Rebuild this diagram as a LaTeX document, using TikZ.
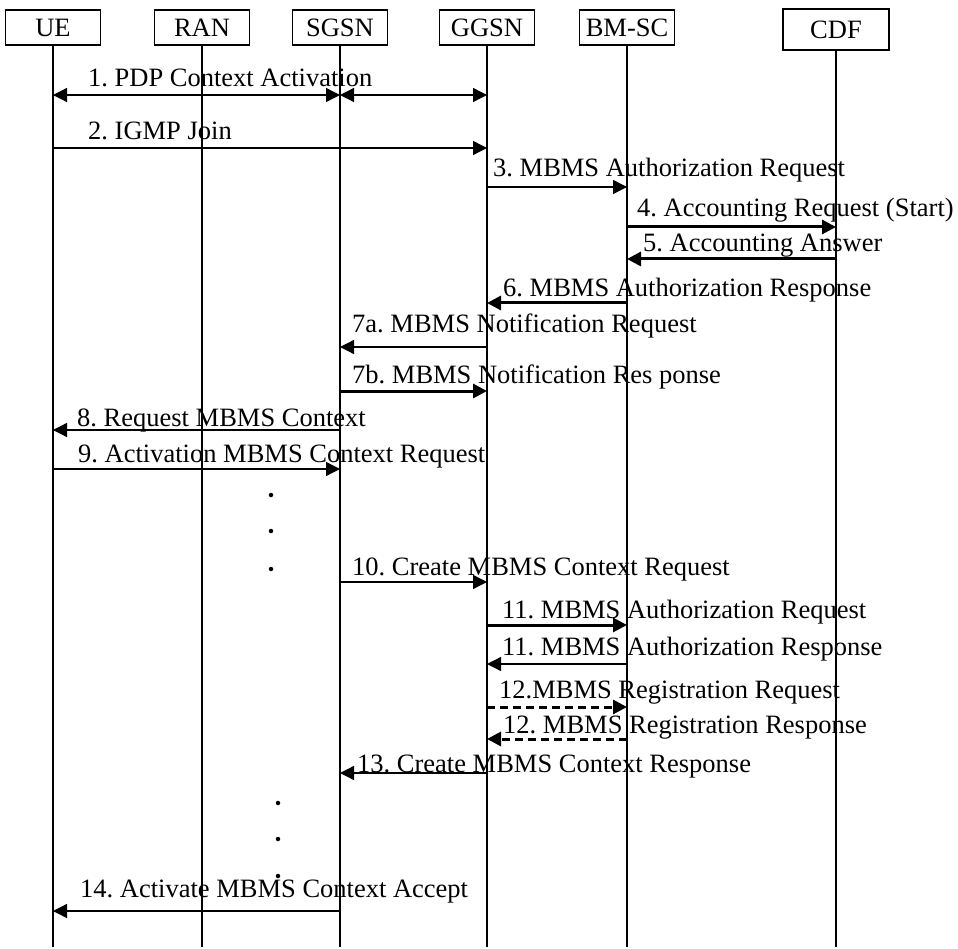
\documentclass[tikz,border=0pt]{standalone}
\usepackage{fontspec}
\setmainfont{Liberation Serif}
\usetikzlibrary{positioning, arrows.meta}

\begin{document}
\frenchspacing
\begin{tikzpicture}[x=1pt, y=-1pt, >={Triangle[length=14pt,width=14pt]}, font=\fontsize{26.5}{30}\selectfont,
    entity/.style={draw, line width=1.4pt, minimum width=95pt, minimum height=35pt, inner sep=0pt},
    life/.style={line width=1.3pt},
    thinmsg/.style={->, line width=1.3pt},
    thickmsg/.style={->, line width=3pt},
    dashmsg/.style={->, line width=3pt, dash pattern=on 8pt off 5pt},
    lbl/.style={anchor=base west, inner sep=0pt},
    dotmark/.style={circle, fill, inner sep=0pt, minimum size=4.5pt}]
        \useasboundingbox (0,0) rectangle (958,949);

        % Entities
        \node[entity] (ue) at (53,27.5) {UE};
        \node[entity] (ran) at (202,27.5) {RAN};
        \node[entity] (sgsn) at (340,27.5) {SGSN};
        \node[entity] (ggsn) at (487,27.5) {GGSN};
        \node[entity] (bmsc) at (627,27.5) {BM-SC};
        \node[entity, minimum width=106pt, minimum height=41pt] (cdf) at (836,29.5) {CDF};

        % Lifelines
        \foreach \n in {ue, ran, sgsn, ggsn, bmsc, cdf}
            \draw[life] (\n.south) -- (\n.south |- 0,947);

        % 1. PDP context
        \draw[<->, line width=1.3pt] (ue |- 0,95) -- (sgsn |- 0,95);
        \draw[<->, line width=1.3pt] (sgsn |- 0,95) -- (ggsn |- 0,95);
        \node[lbl] (m1) at (88,87) {1. PDP Context Activation};

        % 2. IGMP
        \draw[thinmsg] (ue |- 0,148) -- (ggsn |- 0,148);
        \node[lbl] (m2) at (88,140) {2. IGMP Join};

        % 3.-6. Authorization and accounting
        \draw[thinmsg] (ggsn |- 0,187) -- (bmsc |- 0,187);
        \node[lbl] (m3) at (493,177) {3. MBMS Authorization Request};
        \draw[thickmsg] (bmsc |- 0,227) -- (cdf |- 0,227);
        \node[lbl] (m4) at (637,217) {4. Accounting Request (Start)};
        \draw[thickmsg] (cdf |- 0,259) -- (bmsc |- 0,259);
        \node[lbl] (m5) at (643,252) {5. Accounting Answer};
        \draw[thickmsg] (bmsc |- 0,303) -- (ggsn |- 0,303);
        \node[lbl] (m6) at (503,297) {6. MBMS Authorization Response};

        % 7. Notification
        \draw[thinmsg] (ggsn |- 0,347) -- (sgsn |- 0,347);
        \node[lbl] (m7a) at (352,333) {7a. MBMS Notification Request};
        \draw[thickmsg] (sgsn |- 0,391) -- (ggsn |- 0,391);
        \node[lbl] (m7b) at (352,383) {7b. MBMS Notification Res ponse};

        % 8.-9. UE context
        \draw[thinmsg] (sgsn |- 0,430) -- (ue |- 0,430);
        \node[lbl] (m8) at (77,426) {8. Request MBMS Context};
        \draw[thinmsg] (ue |- 0,469) -- (sgsn |- 0,469);
        \node[lbl] (m9) at (78,462) {9. Activation MBMS Context Request};

        \node[dotmark] (d1) at (271,495) {};
        \node[dotmark] (d2) at (271,531) {};
        \node[dotmark] (d3) at (271,569) {};

        % 10.-13. Create context
        \draw[thinmsg] (sgsn |- 0,582) -- (ggsn |- 0,582);
        \node[lbl] (m10) at (352,575) {10. Create MBMS Context Request};
        \draw[thickmsg] (ggsn |- 0,625) -- (bmsc |- 0,625);
        \node[lbl] (m11a) at (502,618) {11. MBMS Authorization Request};
        \draw[thinmsg] (bmsc |- 0,664) -- (ggsn |- 0,664);
        \node[lbl] (m11b) at (502,655) {11. MBMS Authorization Response};
        \draw[dashmsg] (ggsn |- 0,707) -- (bmsc |- 0,707);
        \node[lbl] (m12a) at (499,698) {12.MBMS Registration Request};
        \draw[dashmsg] (bmsc |- 0,739) -- (ggsn |- 0,739);
        \node[lbl] (m12b) at (503,733) {12. MBMS Registration Response};
        \draw[thinmsg] (ggsn |- 0,773) -- (sgsn |- 0,773);
        \node[lbl] (m13) at (357,772) {13. Create MBMS Context Response};

        \node[dotmark] (d4) at (278,803) {};
        \node[dotmark] (d5) at (278,839) {};
        \node[dotmark] (d6) at (278,876) {};

        % 14. Accept
        \draw[thinmsg] (sgsn |- 0,911) -- (ue |- 0,911);
        \node[lbl] (m14) at (80,897) {14. Activate MBMS Context Accept};
    \end{tikzpicture}
\end{document}
